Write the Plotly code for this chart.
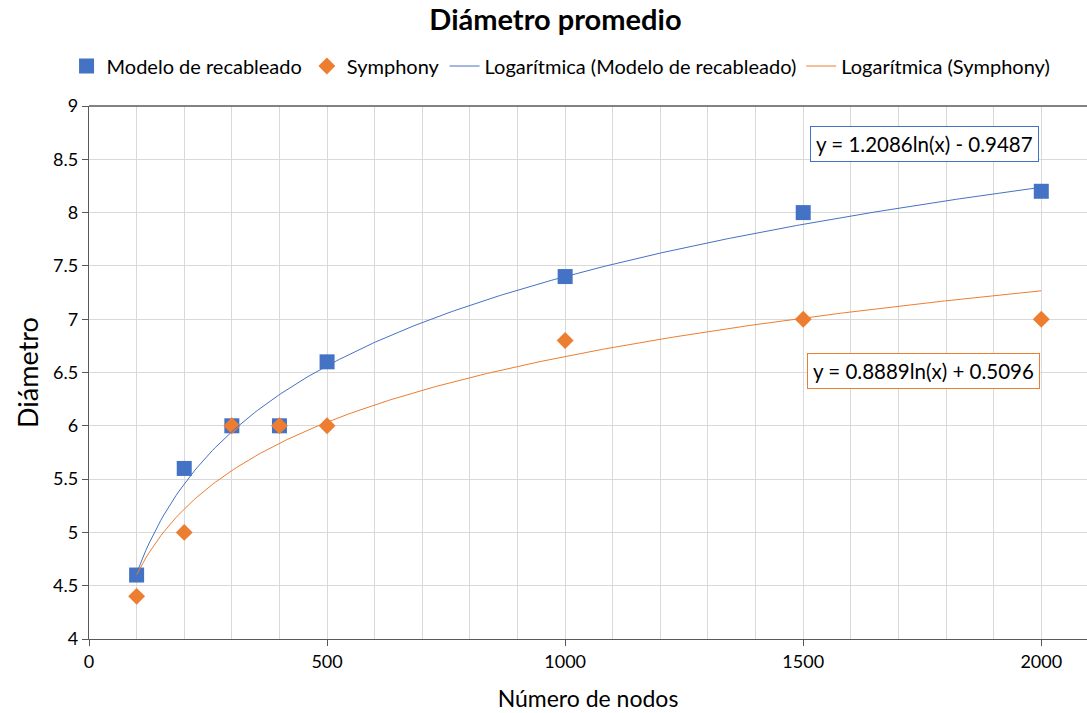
import numpy as np
import plotly.graph_objects as go

nodos = [100, 200, 300, 400, 500, 1000, 1500, 2000]
modelo = [4.6, 5.6, 6.0, 6.0, 6.6, 7.4, 8.0, 8.2]
symphony = [4.4, 5.0, 6.0, 6.0, 6.0, 6.8, 7.0, 7.0]
eq_modelo = "y = 1.2086ln(x) - 0.9487"
eq_symphony = "y = 0.8889ln(x) + 0.5096"

BLUE = "#4472C4"
ORANGE = "#ED7D31"
FONT = "Lato, 'Open Sans', sans-serif"

x = np.array(nodos, dtype=float)
xs = np.linspace(x.min(), x.max(), 300)
a1, b1 = np.polyfit(np.log(x), np.array(modelo), 1)
a2, b2 = np.polyfit(np.log(x), np.array(symphony), 1)

fig = go.Figure()
fig.add_trace(go.Scatter(x=nodos, y=modelo, mode="markers", name="Modelo de recableado",
                         marker=dict(symbol="square", size=15, color=BLUE)))
fig.add_trace(go.Scatter(x=nodos, y=symphony, mode="markers", name="Symphony",
                         marker=dict(symbol="diamond", size=13, color=ORANGE)))
fig.add_trace(go.Scatter(x=xs, y=a1 * np.log(xs) + b1, mode="lines",
                         name="Logarítmica (Modelo de recableado)",
                         line=dict(color=BLUE, width=1)))
fig.add_trace(go.Scatter(x=xs, y=a2 * np.log(xs) + b2, mode="lines",
                         name="Logarítmica (Symphony)",
                         line=dict(color=ORANGE, width=1)))

fig.add_annotation(x=1754, y=8.645, xref="x", yref="y", text=eq_modelo, showarrow=False,
                   font=dict(size=20.5, color="#000000", family=FONT),
                   bordercolor=BLUE, borderwidth=1, borderpad=5, bgcolor="white")
fig.add_annotation(x=1752, y=6.515, xref="x", yref="y", text=eq_symphony, showarrow=False,
                   font=dict(size=20.5, color="#000000", family=FONT),
                   bordercolor=ORANGE, borderwidth=1, borderpad=5, bgcolor="white")

fig.update_layout(
    width=1087, height=713,
    margin=dict(l=89, r=0, t=106, b=74),
    paper_bgcolor="white", plot_bgcolor="white",
    font=dict(family=FONT, size=18, color="#000000"),
    title=dict(text="<b>Diámetro promedio</b>", x=0.511, xanchor="center", y=0.972, yanchor="middle",
               font=dict(size=29, family=FONT, color="#000000")),
    legend=dict(orientation="h", x=0.473, xanchor="center", y=1.075, yanchor="middle",
                font=dict(size=20, family=FONT), itemwidth=30, tracegroupgap=0,
                bgcolor="rgba(0,0,0,0)"),
    showlegend=True,
)
fig.update_xaxes(range=[0, 2096], tickvals=[0, 500, 1000, 1500, 2000],
                 showgrid=False, showline=True, linecolor="#595959", linewidth=1.3,
                 ticks="outside", ticklen=6, tickcolor="#595959",
                 tickfont=dict(size=18), zeroline=False,
                 title=dict(text="Número de nodos", font=dict(size=23), standoff=20),
                 minor=dict(dtick=100, showgrid=True, gridcolor="#D9D9D9", gridwidth=1, tick0=0),
                 mirror=False)
fig.update_yaxes(range=[4, 9], dtick=0.5, tick0=4, showgrid=True, gridcolor="#D9D9D9",
                 showline=True, linecolor="#595959", linewidth=1.3,
                 ticks="outside", ticklen=6, tickcolor="#595959",
                 tickfont=dict(size=18), zeroline=False,
                 title=dict(text="Diámetro", font=dict(size=27), standoff=6))
# top border of plot area
fig.add_shape(type="line", xref="paper", yref="paper", x0=0, x1=1, y0=1, y1=1,
              line=dict(color="#595959", width=1.3), layer="above")

fig.write_html("out.html")
